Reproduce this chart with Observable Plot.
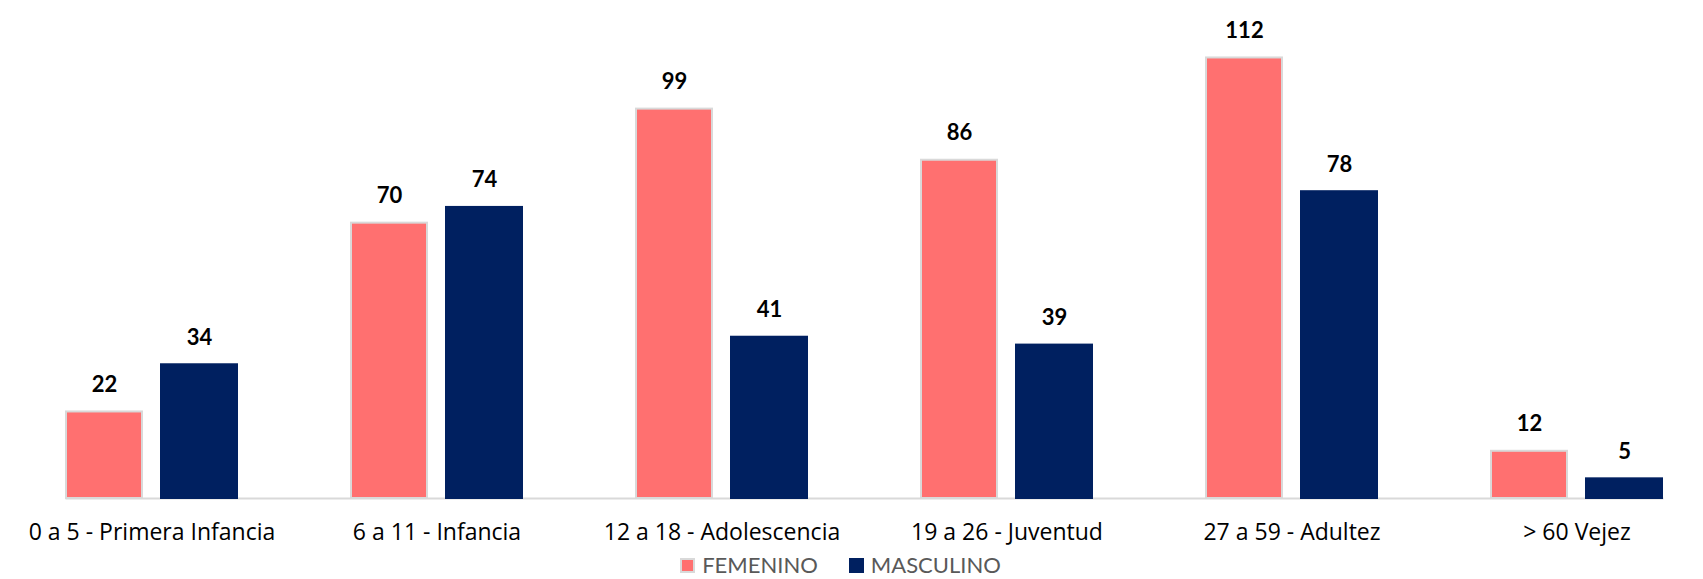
<!DOCTYPE html>
<html><head><meta charset="utf-8">
<script src="https://cdn.jsdelivr.net/npm/d3@7"></script>
<script src="https://cdn.jsdelivr.net/npm/@observablehq/plot@0.6"></script>
<style>
body{margin:0;background:#fff;font-family:Lato, "Open Sans", sans-serif;overflow:hidden}
#chart svg{display:block}
#legend{display:flex;justify-content:center;align-items:center;gap:31px;height:24px;margin-top:-2px;font-size:22px;color:#595959;padding-right:22px}
#legend span{display:block;line-height:26px}
.item{display:flex;align-items:center;gap:7px}
.sw{width:15px;height:15px;box-sizing:border-box}
</style>
</head><body><div id="chart"></div><div id="legend"></div>
<script>
const categories = ["0 a 5 - Primera Infancia","6 a 11 - Infancia","12 a 18 - Adolescencia","19 a 26 - Juventud","27 a 59 - Adultez","> 60 Vejez"];
const series = ["FEMENINO","MASCULINO"];
const femenino = [22,70,99,86,112,12];
const masculino = [34,74,41,39,78,5];
const colors = ["#FF7070","#002060"];
const strokes = ["#D9D9D9","#002060"];

const data = categories.flatMap((c,i)=>[
  {cat:c, sex:series[0], value:femenino[i]},
  {cat:c, sex:series[1], value:masculino[i]}
]);

const chart = Plot.plot({
  width:1703, height:555, marginTop:26, marginBottom:57, marginLeft:7, marginRight:3,
  style:{fontFamily:"Lato", background:"white", color:"black", fontSize:"21px"},
  fx:{domain:categories, paddingInner:0.4, paddingOuter:0.16, align:0.61, label:null},
  x:{domain:series, axis:null, paddingInner:0.2, paddingOuter:0},
  y:{domain:[0,120], axis:null},
  marks:[
    Plot.frame({anchor:"bottom", stroke:"#D9D9D9", strokeWidth:2, facet:"super"}),
    ...series.map((s,k)=>Plot.barY(data.filter(d=>d.sex===s), {fx:"cat", x:"sex", y:"value", fill:colors[k], stroke:strokes[k], strokeWidth:2})),
    Plot.text(data, {fx:"cat", x:"sex", y:"value", text:d=>String(d.value), dy:-27, lineAnchor:"middle", fontWeight:"bold", fontSize:22, fill:"black"}),
    Plot.axisFx({anchor:"bottom", tickSize:0, tickPadding:25, fontSize:23, fontFamily:"Open Sans", label:null, color:"black"})
  ]
});
document.getElementById("chart").appendChild(chart);

const legend = document.getElementById("legend");
series.forEach((s,k)=>{
  const it = document.createElement("div"); it.className="item";
  const sw = document.createElement("div"); sw.className="sw";
  sw.style.background = colors[k];
  sw.style.border = "2px solid " + strokes[k];
  const t = document.createElement("span"); t.textContent = s;
  it.appendChild(sw); it.appendChild(t); legend.appendChild(it);
});
</script>
</body></html>
